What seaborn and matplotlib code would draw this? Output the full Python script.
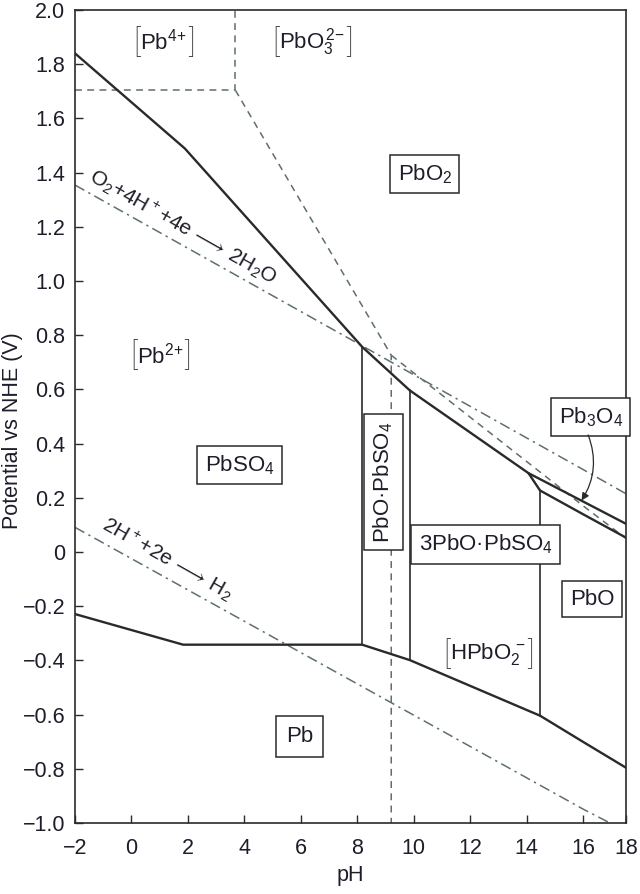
import numpy as np
import pandas as pd
import matplotlib
matplotlib.use("Agg")
import matplotlib.pyplot as plt
import seaborn as sns

# ---------------- data ----------------
ph_ticks = [-2, 0, 2, 4, 6, 8, 10, 12, 14, 16, 18]
e_ticks = [-1.0, -0.8, -0.6, -0.4, -0.2, 0.0, 0.2, 0.4, 0.6, 0.8,
           1.0, 1.2, 1.4, 1.6, 1.8, 2.0]

# solid phase boundaries (pH, E / V)
upper_ph = [-2.0, 1.89, 8.17, 9.86, 14.06, 16.0, 18.0]
upper_E = [1.840, 1.489, 0.757, 0.596, 0.291, 0.186, 0.104]
pb3o4_ph = [14.06, 14.47, 16.0, 18.0]
pb3o4_E = [0.291, 0.227, 0.139, 0.053]
pb_ph = [-2.0, 1.83, 8.17, 9.86, 14.47, 16.0, 18.0]
pb_E = [-0.229, -0.342, -0.342, -0.399, -0.604, -0.701, -0.796]
vert_ph = [8.17, 9.86, 14.47]
vert_lo = [-0.342, -0.399, -0.604]
vert_hi = [0.757, 0.596, 0.227]

# dashed boundaries of dissolved species
pb4_ph = [-2.0, 3.68, 3.68]
pb4_E = [1.704, 1.704, 2.0]
diag_ph = [3.68, 9.2, 9.2]
diag_E = [1.704, 0.726, -1.0]
pb3o4d_ph = [9.2, 16.0, 18.0]
pb3o4d_E = [0.726, 0.170, 0.050]

# water stability lines (dash-dot)
o2_ph = [-2.0, 16.0, 18.0]
o2_E = [1.354, 0.304, 0.215]
h2_ph = [-2.0, 16.0, 17.25]
h2_E = [0.091, -0.949, -1.0]

# region labels
box_text = ["PbO$_2$", "PbSO$_4$", "PbO·PbSO$_4$", "3PbO·PbSO$_4$",
            "Pb$_3$O$_4$", "PbO", "Pb"]
box_ph = [10.39, 3.83, 8.93, 12.54, 16.35, 16.41, 5.95]
box_E = [1.395, 0.320, 0.259, 0.028, 0.498, -0.174, -0.68]
box_rot = [0, 0, 90, 0, 0, 0, 0]

ion_text = [r"Pb$^{4\!+}$", r"PbO$_3^{\,2\!-}$", r"Pb$^{2\!+}$", r"HPbO$_2^{\,-}$"]
ion_ph = [1.14, 6.41, 1.03, 12.64]
ion_E = [1.883, 1.883, 0.726, -0.377]

rxn_text = [r"O$_2$+4H$^+$+4e$\,\longrightarrow\,$2H$_2$O",
            r"2H$^+$+2e$\,\longrightarrow\,$H$_2$"]
rxn_ph = [1.82, 1.26]
rxn_E = [1.200, -0.025]

# ---------------- styling ----------------
sns.set_theme(style="ticks")
plt.rcParams["font.family"] = ["Liberation Sans", "DejaVu Sans"]
plt.rcParams["mathtext.fontset"] = "custom"
plt.rcParams["mathtext.rm"] = "Liberation Sans"
plt.rcParams["mathtext.it"] = "Liberation Sans:italic"
plt.rcParams["mathtext.bf"] = "Liberation Sans:bold"
plt.rcParams["mathtext.fallback"] = "stixsans"

SOLID = "#2a2a2a"
DASH = "#5f6e6e"
TXT = "#1e1e2a"

fig = plt.figure(figsize=(6.4, 8.94), dpi=100)
ax = fig.add_axes([75 / 640, 1 - 823 / 894, 551 / 640, 813 / 894])


def poly(ph, e, seg):
    return pd.DataFrame({"pH": ph, "E": e, "seg": seg})


main = pd.concat([poly(upper_ph, upper_E, "upper"),
                  poly(pb3o4_ph, pb3o4_E, "pb3o4"),
                  poly(pb_ph, pb_E, "pb")], ignore_index=True)
verts = pd.concat([poly([x, x], [lo, hi], f"v{i}")
                   for i, (x, lo, hi) in enumerate(zip(vert_ph, vert_lo, vert_hi))],
                  ignore_index=True)
dashed = pd.concat([poly(pb4_ph, pb4_E, "pb4"),
                    poly(diag_ph, diag_E, "diag"),
                    poly(pb3o4d_ph, pb3o4d_E, "pb3o4d")], ignore_index=True)
water = pd.concat([poly(o2_ph, o2_E, "o2"), poly(h2_ph, h2_E, "h2")],
                  ignore_index=True)

common = dict(x="pH", y="E", units="seg", estimator=None, sort=False,
              legend=False, ax=ax)
sns.lineplot(data=dashed, color=DASH, linewidth=1.1,
             linestyle=(0, (4.5, 3.5)), **common)
sns.lineplot(data=water, color=DASH, linewidth=1.1,
             linestyle=(0, (7, 3, 1.5, 3)), **common)
sns.lineplot(data=main, color=SOLID, linewidth=1.7, **common)
sns.lineplot(data=verts, color=SOLID, linewidth=1.2, **common)

# pH axis: the last interval (16-18) is drawn compressed in the reference
K = 0.757


def fwd(x):
    x = np.asarray(x, dtype=float)
    return np.where(x <= 16, x, 16 + (x - 16) * K)


def inv(u):
    u = np.asarray(u, dtype=float)
    return np.where(u <= 16, u, 16 + (u - 16) / K)


ax.set_xscale("function", functions=(fwd, inv))
ax.set_xlim(-2, 18)
ax.set_ylim(-1.0, 2.0)
ax.set_xticks(ph_ticks)
ax.set_xticklabels([str(v).replace("-", "\u2212") for v in ph_ticks])
ax.set_yticks(e_ticks)
ax.set_yticklabels(["0" if abs(v) < 1e-9 else f"{v:.1f}".replace("-", "\u2212")
                    for v in e_ticks])
ax.xaxis.set_minor_locator(matplotlib.ticker.NullLocator())
ax.yaxis.set_minor_locator(matplotlib.ticker.NullLocator())
ax.tick_params(direction="in", length=6, width=1.0, colors=SOLID,
               labelsize=15.5, labelcolor=TXT)
ax.tick_params(axis="x", pad=11)
ax.tick_params(axis="y", pad=7)
for s in ax.spines.values():
    s.set_color(SOLID)
    s.set_linewidth(1.2)

ax.set_xlabel("pH", fontsize=15.5, color=TXT, labelpad=4)
ax.set_ylabel("Potential vs NHE (V)", fontsize=15.5, color=TXT, labelpad=4)
ax.yaxis.set_label_coords(-0.095, 0.483)

for t, x, y, r in zip(box_text, box_ph, box_E, box_rot):
    pad = 0.45 if t == "Pb" else 0.33
    ax.text(x, y, t, ha="center", va="center", rotation=r, fontsize=16,
            color=TXT,
            bbox=dict(boxstyle=f"square,pad={pad}", fc="white", ec=SOLID, lw=1.1))

for t, x, y in zip(ion_text, ion_ph, ion_E):
    inner = ax.text(x, y, t, ha="center", va="center", fontsize=16, color=TXT)
    bkw = dict(fontsize=22, color=SOLID, va="center",
               family=["Roboto", "DejaVu Sans"], fontweight="light",
               xycoords=inner, textcoords="offset points")
    ax.annotate("[", xy=(0, 0.47), xytext=(-0.5, 0), ha="right", **bkw)
    ax.annotate("]", xy=(1, 0.47), xytext=(0.5, 0), ha="left", **bkw)

for t, x, y in zip(rxn_text, rxn_ph, rxn_E):
    ax.text(x, y, t, ha="center", va="center", rotation=-29.5,
            rotation_mode="anchor", fontsize=15, color=TXT)

ax.annotate("", xy=(15.94, 0.19), xytext=(16.23, 0.432),
            arrowprops=dict(arrowstyle="-|>", connectionstyle="arc3,rad=-0.25",
                            color=SOLID, lw=0.9, mutation_scale=11,
                            shrinkA=0, shrinkB=0))

fig.savefig("out.png", dpi=100)
